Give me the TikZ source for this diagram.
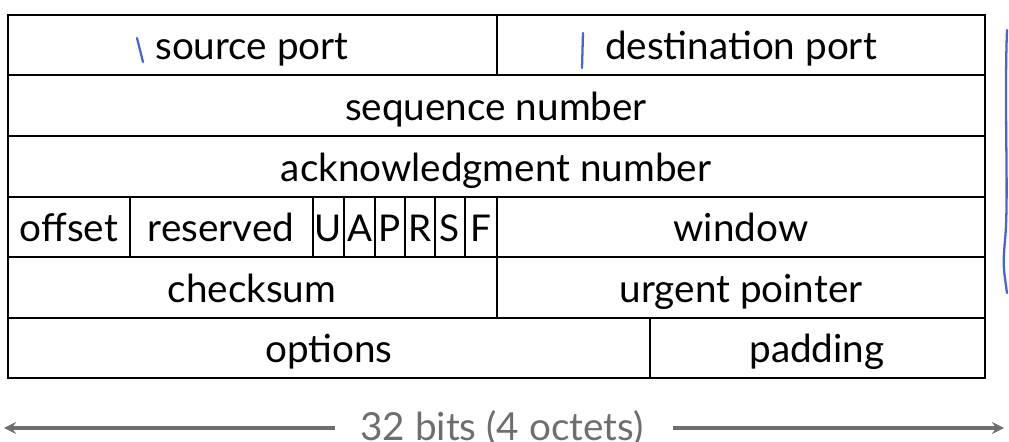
\documentclass[tikz,border=0pt]{standalone}
\usepackage{fontspec}
\setmainfont{Lato}
\definecolor{penblue}{RGB}{70,100,210}
\definecolor{labelgray}{RGB}{110,110,110}
\tikzset{
  field/.style={font=\fontsize{22}{24}\selectfont, inner sep=0pt, anchor=base},
  flag/.style={font=\fontsize{21}{24}\selectfont, inner sep=0pt, anchor=base},
  pen/.style={penblue, line width=1.3pt, line cap=round},
}
\begin{document}
\begin{tikzpicture}[x=0.02cm, y=-0.02cm, line width=1.1pt]
  \useasboundingbox (0,0) rectangle (1009,442);
  % header grid
  \draw (8,15) rectangle (985,378);
  \foreach \y in {75,136,197,257,318} \draw (8,\y) -- (985,\y);
  \draw (497,15) -- (497,75);
  \draw (130,197) -- (130,257);
  \foreach \x in {313,344,375,405,435,465,497} \draw (\x,197) -- (\x,257);
  \draw (497,257) -- (497,318);
  \draw (650,318) -- (650,378);
  % field labels
  \node[field] (srcport) at (252,60) {source port};
  \node[field] (dstport) at (741,60) {destination port};
  \node[field] (seqnum) at (496,121) {sequence number};
  \node[field] (acknum) at (496,182) {acknowledgment number};
  \node[field] (offset) at (69,242) {offset};
  \node[field] (reserved) at (221,242) {reserved};
  \node[flag] (flagU) at (328.5,242) {U};
  \node[flag] (flagA) at (359.5,242) {A};
  \node[flag] (flagP) at (390,242) {P};
  \node[flag] (flagR) at (420,242) {R};
  \node[flag] (flagS) at (450,242) {S};
  \node[flag] (flagF) at (481,242) {F};
  \node[field] (window) at (741,242) {window};
  \node[field] (checksum) at (252,303) {checksum};
  \node[field] (urgptr) at (741,303) {urgent pointer};
  \node[field] (options) at (329,363) {options};
  \node[field] (padding) at (817,363) {padding};
  % width label with arrows
  \node[field, text=labelgray, anchor=center] (width) at (502,428) {32 bits (4 octets)};
  \coordinate (wleft) at (4,428);
  \coordinate (wright) at (1004,428);
  \draw[labelgray, line width=2pt, -stealth] (width.west) ++(-24,0) -- (wleft);
  \draw[labelgray, line width=2pt, -stealth] (width.east) ++(28,0) -- (wright);
  % hand-drawn pen marks
  \draw[pen] (137,38) -- (143,62);
  \draw[pen] (583,33) -- (582,68);
  \draw[pen] (1007,30) .. controls (1004,110) and (1009,200) .. (1005,240)
    .. controls (1003,265) .. (1007,293);
\end{tikzpicture}
\end{document}
